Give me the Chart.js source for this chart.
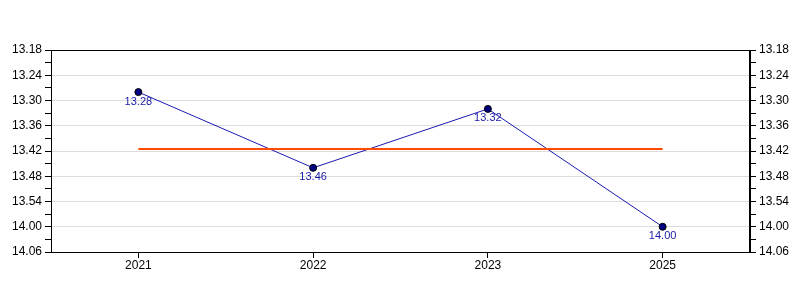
<!DOCTYPE html>
<html lang="en">
<head>
    <meta charset="UTF-8" />
    <title>Times</title>
    <script src="https://cdn.jsdelivr.net/npm/chart.js"></script>
    <style>
        body { margin: 0; background: #fff; }
        .box { width: 800px; height: 300px; }
    </style>
</head>
<body>
    <div class="box">
        <canvas id="grafico" width="800" height="300"></canvas>
    </div>

    <script>
        // data (min.sec)
        const anos = ['2021', '2022', '2023', '2025'];
        const tempos = [13.28, 13.46, 13.32, 14.00];
        const media = 13.415; // orange line, 13:41.5
        const yTicks = ['13.18', '13.24', '13.30', '13.36', '13.42', '13.48', '13.54', '14.00', '14.06'];

        // min.sec -> seconds
        function seg(t) {
            const m = Math.floor(t);
            const s = Math.round((t - m) * 100 * 10) / 10;
            return m * 60 + s;
        }
        function fmt(v) {
            const m = Math.floor(v / 60);
            const s = Math.round(v - m * 60);
            return m + '.' + String(s).padStart(2, '0');
        }

        const yMin = seg(parseFloat(yTicks[0]));
        const yMax = seg(parseFloat(yTicks[yTicks.length - 1]));
        const passo = seg(parseFloat(yTicks[1])) - yMin;

        const eixoY = (pos) => ({
            type: 'linear',
            position: pos,
            reverse: true,
            min: yMin,
            max: yMax,
            afterFit: (s) => { s.width = 50; },
            border: { display: true, color: '#000', width: 1 },
            grid: {
                color: (c) => (c.tick && (c.tick.value - yMin) % passo === 0 && pos === 'left') ? '#dddddd' : 'transparent',
                tickColor: '#000',
                tickLength: 6,
                drawOnChartArea: true
            },
            ticks: {
                stepSize: passo / 2,
                autoSkip: false,
                padding: 3,
                color: '#000',
                font: { family: 'Liberation Sans, Arial', size: 12 },
                callback: (v) => ((v - yMin) % passo === 0 ? fmt(v) : '')
            },
            afterBuildTicks: (s) => {
                s.ticks = [];
                for (let v = yMin; v <= yMax; v += passo / 2) s.ticks.push({ value: v });
            }
        });

        // frame + point labels
        const extras = {
            id: 'extras',
            afterDatasetsDraw(chart) {
                const ctx = chart.ctx;
                const a = chart.chartArea;
                ctx.save();
                ctx.strokeStyle = '#000';
                ctx.lineWidth = 1;
                ctx.strokeRect(a.left + 0.5, a.top + 0.5, a.right - a.left - 1, a.bottom - a.top);
                const meta = chart.getDatasetMeta(1);
                ctx.fillStyle = '#1a1aa6';
                ctx.font = '11px "Liberation Sans", Arial';
                ctx.textAlign = 'center';
                ctx.textBaseline = 'top';
                meta.data.forEach((p, i) => {
                    ctx.fillText(tempos[i].toFixed(2), p.x, p.y + 4);
                });
                ctx.restore();
            }
        };

        new Chart(document.getElementById('grafico'), {
            type: 'line',
            data: {
                labels: anos,
                datasets: [
                    {
                        data: anos.map(() => seg(media)),
                        borderColor: '#ff4a00',
                        borderWidth: 2,
                        pointRadius: 0,
                        yAxisID: 'y'
                    },
                    {
                        data: tempos.map(seg),
                        borderColor: '#1a1ab0',
                        borderWidth: 1,
                        pointRadius: 3.5,
                        pointBackgroundColor: '#000080',
                        pointBorderColor: '#000',
                        pointBorderWidth: 1,
                        yAxisID: 'y'
                    }
                ]
            },
            options: {
                responsive: false,
                animation: false,
                layout: { padding: { top: 50, bottom: 0, left: 1, right: 0 } },
                plugins: { legend: { display: false }, tooltip: { enabled: false } },
                scales: {
                    x: {
                        offset: true,
                        afterFit: (s) => { s.height = 48; },
                        border: { display: true, color: '#000' },
                        grid: { drawOnChartArea: false, tickColor: '#000', tickLength: 6, offset: false },
                        ticks: { color: '#000', padding: 0, font: { family: 'Liberation Sans, Arial', size: 12 } }
                    },
                    y: eixoY('left'),
                    y2: eixoY('right')
                }
            },
            plugins: [extras]
        });
    </script>
</body>
</html>
